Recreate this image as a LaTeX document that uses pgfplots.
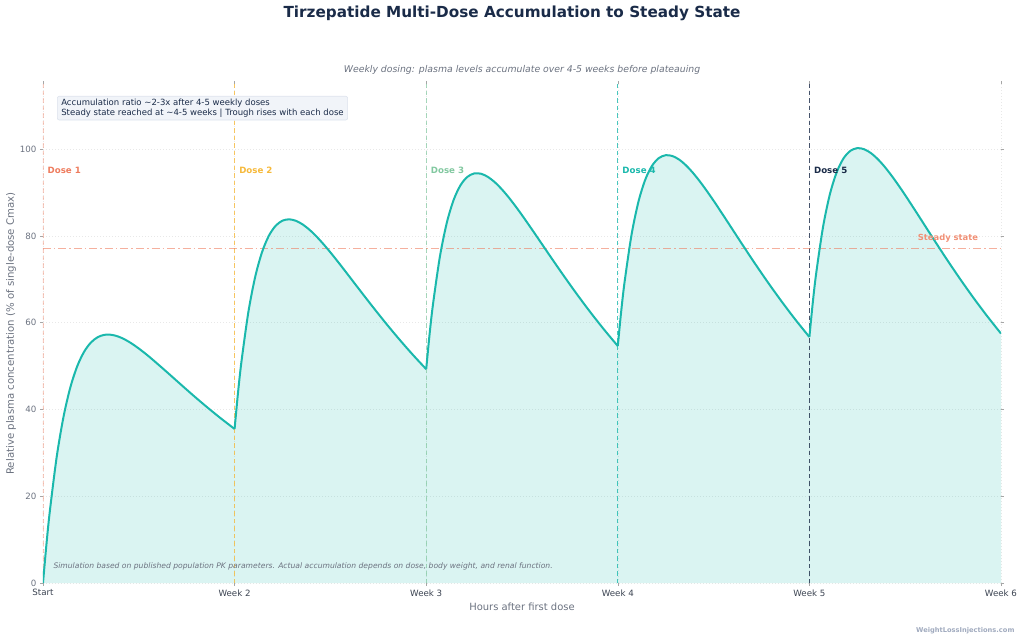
\documentclass[border=0pt]{standalone}
\usepackage{pgfplots}
\pgfplotsset{compat=1.18}
\usepackage{pgfplotstable}
\usepackage{fontspec}
\setmainfont{DejaVu Sans}
\definecolor{navy}{RGB}{26,43,72}
\definecolor{slate}{RGB}{107,114,128}
\definecolor{darkslate}{RGB}{60,68,82}
\definecolor{tealc}{RGB}{26,184,172}
\definecolor{coral}{RGB}{238,124,94}
\definecolor{amber}{RGB}{246,185,59}
\definecolor{mint}{RGB}{130,200,160}
\definecolor{boxfill}{RGB}{241,244,249}
\definecolor{boxdraw}{RGB}{220,226,236}
\definecolor{wm}{RGB}{160,170,190}

\pgfplotstableread{
t c
0 0
3 8.86
6 16.56
12 29.04
18 38.32
24 45.11
30 49.95
36 53.27
42 55.42
48 56.66
54 57.20
60 57.20
66 56.80
72 56.09
78 55.15
84 54.04
90 52.82
96 51.51
108 48.76
120 45.95
132 43.17
144 40.49
156 37.93
168 35.50
171 43.87
174 50.99
180 62.32
186 70.49
192 76.20
198 80.01
204 82.33
210 83.51
216 83.81
222 83.45
228 82.58
234 81.33
240 79.80
246 78.07
252 76.20
258 74.23
264 72.21
276 68.10
288 64.03
300 60.07
312 56.28
324 52.68
336 49.28
339 57.42
342 64.31
348 75.20
354 82.94
360 88.24
366 91.64
372 93.58
378 94.38
384 94.32
390 93.61
396 92.40
402 90.82
408 88.98
414 86.94
420 84.78
426 82.52
432 80.23
444 75.59
456 71.03
468 66.61
480 62.39
492 58.39
504 54.62
507 62.67
510 69.47
516 80.19
522 87.76
528 92.90
534 96.15
540 97.93
546 98.59
552 98.39
558 97.54
564 96.20
570 94.49
576 92.53
582 90.37
588 88.10
594 85.73
600 83.33
612 78.49
624 73.73
636 69.14
648 64.76
660 60.60
672 56.69
675 64.70
678 71.47
684 82.12
690 89.63
696 94.70
702 97.89
708 99.61
714 100.22
720 99.97
726 99.06
732 97.67
738 95.92
744 93.90
750 91.70
756 89.38
762 86.97
768 84.53
780 79.61
792 74.78
804 70.12
816 65.67
828 61.46
840 57.49
}\pk

\begin{document}
\begin{tikzpicture}
\useasboundingbox (-43bp,-58bp) rectangle (981bp,583bp);
\begin{axis}[
  at={(0,0)}, anchor=south west,
  scale only axis, width=958bp, height=499bp,
  xmin=0, xmax=840, ymin=0, ymax=115,
  axis line style={draw=none},
  xtick={0,168,336,504,672,840},
  xticklabels={Start,Week 2,Week 3,Week 4,Week 5,Week 6},
  ytick={0,20,40,60,80,100},
  tick align=outside, major tick length=3bp,
  tick style={color=black!35, line width=0.5pt},
  /pgf/number format/assume math mode=true,
  x tick label style={font=\fontsize{8.7}{10}\selectfont, text=darkslate},
  y tick label style={font=\fontsize{8.7}{10}\selectfont, text=slate},
  xmajorgrids, ymajorgrids,
  grid style={color=black!9, line width=0.5pt, dash pattern=on 1bp off 2bp},
  xlabel={Hours after first dose},
  ylabel={Relative plasma concentration (\% of single-dose Cmax)},
  xlabel style={font=\fontsize{10}{12}\selectfont, text=slate, at={(axis description cs:0.5,-0.047)}, anchor=center},
  ylabel style={font=\fontsize{10.2}{12}\selectfont, text=slate, at={(axis description cs:-0.0334,0.5)}, anchor=center},
]
% fills
\addplot[draw=none, fill=tealc, fill opacity=0.16, smooth, restrict x to domain=0:168] table {\pk} \closedcycle;
\addplot[draw=none, fill=tealc, fill opacity=0.16, smooth, restrict x to domain=168:336] table {\pk} \closedcycle;
\addplot[draw=none, fill=tealc, fill opacity=0.16, smooth, restrict x to domain=336:504] table {\pk} \closedcycle;
\addplot[draw=none, fill=tealc, fill opacity=0.16, smooth, restrict x to domain=504:672] table {\pk} \closedcycle;
\addplot[draw=none, fill=tealc, fill opacity=0.16, smooth, restrict x to domain=672:840] table {\pk} \closedcycle;
% dose lines
\addplot[coral, opacity=0.4, line width=1.2bp, dash pattern=on 4.5bp off 3bp] coordinates {(0,0) (0,115)};
\addplot[amber, opacity=0.8, line width=1.2bp, dash pattern=on 4.5bp off 3bp] coordinates {(168,0) (168,115)};
\addplot[mint, opacity=0.7, line width=1.2bp, dash pattern=on 4.5bp off 3bp] coordinates {(336,0) (336,115)};
\addplot[tealc, opacity=0.8, line width=1.2bp, dash pattern=on 4.5bp off 3bp] coordinates {(504,0) (504,115)};
\addplot[navy, opacity=0.8, line width=1.4bp, dash pattern=on 4.5bp off 3bp] coordinates {(672,0) (672,115)};
% steady state
\addplot[coral, opacity=0.6, line width=1.2bp, dash pattern=on 8bp off 3bp on 1.5bp off 3bp] coordinates {(0,77) (840,77)};
% curves
\addplot[tealc, line width=2bp, smooth, restrict x to domain=0:168] table {\pk};
\addplot[tealc, line width=2bp, smooth, restrict x to domain=168:336] table {\pk};
\addplot[tealc, line width=2bp, smooth, restrict x to domain=336:504] table {\pk};
\addplot[tealc, line width=2bp, smooth, restrict x to domain=504:672] table {\pk};
\addplot[tealc, line width=2bp, smooth, restrict x to domain=672:840] table {\pk};
% labels
\node[anchor=west, text=coral, font=\bfseries\fontsize{8.7}{9}\selectfont] at (axis cs:1,95.2) {Dose 1};
\node[anchor=west, text=amber, font=\bfseries\fontsize{8.7}{9}\selectfont] at (axis cs:169,95.2) {Dose 2};
\node[anchor=west, text=mint, font=\bfseries\fontsize{8.7}{9}\selectfont] at (axis cs:337,95.2) {Dose 3};
\node[anchor=west, text=tealc, font=\bfseries\fontsize{8.7}{9}\selectfont] at (axis cs:505,95.2) {Dose 4};
\node[anchor=west, text=navy, font=\bfseries\fontsize{8.7}{9}\selectfont] at (axis cs:673,95.2) {Dose 5};
\node[text=coral!85, font=\bfseries\fontsize{8.4}{9}\selectfont] at (axis cs:793.5,79.5) {Steady state};
\end{axis}
% annotation box
\node[anchor=north west, fill=boxfill, draw=boxdraw, rounded corners=2bp, line width=0.6pt,
      align=left, inner xsep=4bp, inner ysep=2.5bp, text=navy, font=\fontsize{8.55}{10.3}\selectfont]
  at (14bp,487bp) {Accumulation ratio \textasciitilde2-3x after 4-5 weekly doses\\Steady state reached at \textasciitilde4-5 weeks | Trough rises with each dose};
% footer note
\node[anchor=west, text=slate, font=\itshape\fontsize{7.65}{9}\selectfont] at (7bp,17bp)
  {Simulation based on published population PK parameters. Actual accumulation depends on dose, body weight, and renal function.};
% title & subtitle
\node[text=navy, font=\bfseries\fontsize{15.3}{17}\selectfont] at (469bp,570bp) {Tirzepatide Multi-Dose Accumulation to Steady State};
\node[text=slate, font=\itshape\fontsize{9.35}{11}\selectfont] at (479bp,513bp) {Weekly dosing: plasma levels accumulate over 4-5 weeks before plateauing};
% watermark
\node[anchor=east, text=wm, font=\bfseries\fontsize{6.7}{8}\selectfont] at (975bp,-48bp) {WeightLossInjections.com};
\end{tikzpicture}
\end{document}
